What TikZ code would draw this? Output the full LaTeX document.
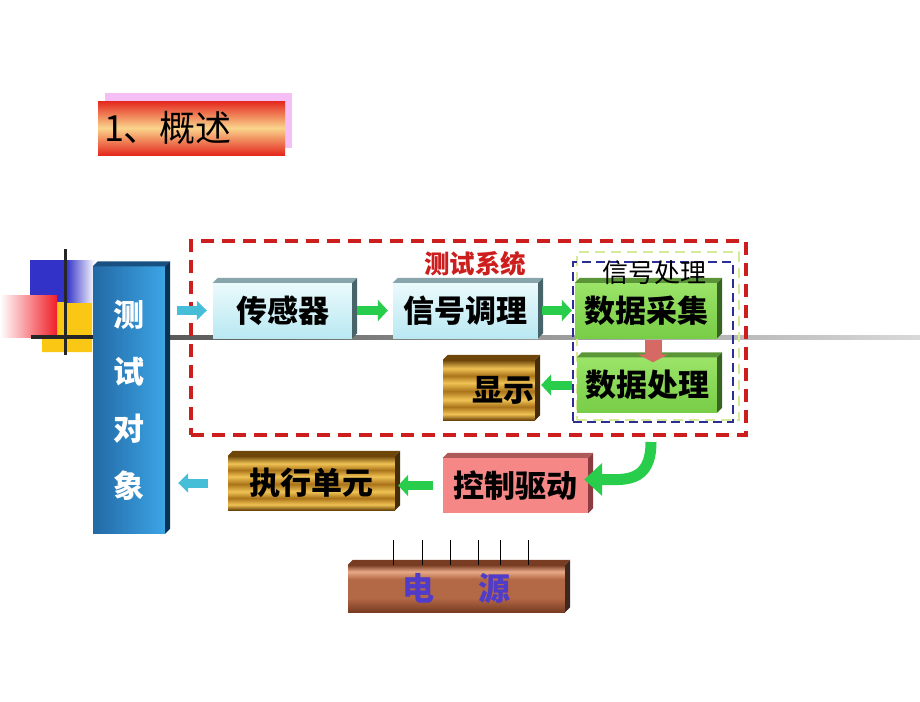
\documentclass[tikz,border=0pt]{standalone}
\usepackage{fontspec}
\setmainfont{Noto Sans CJK SC}
\usetikzlibrary{arrows.meta}

\definecolor{frame red}{RGB}{205,30,30}
\definecolor{frame blue}{RGB}{45,45,150}
\definecolor{frame lime}{RGB}{215,235,150}
\definecolor{arrow cyan}{RGB}{70,190,215}
\definecolor{arrow green}{RGB}{40,205,75}
\definecolor{arrow red}{RGB}{215,105,100}
\definecolor{deco blue}{RGB}{50,50,200}
\definecolor{deco red}{RGB}{240,30,40}
\definecolor{deco yellow}{RGB}{250,200,20}
\definecolor{title red}{RGB}{228,40,30}
\definecolor{title light}{RGB}{250,212,140}
\definecolor{title shadow}{RGB}{245,190,245}
\definecolor{cyan top}{RGB}{235,250,252}
\definecolor{cyan bottom}{RGB}{185,232,242}
\definecolor{cyan lid}{RGB}{135,165,170}
\definecolor{cyan side}{RGB}{70,100,105}
\definecolor{green top}{RGB}{155,228,105}
\definecolor{green bottom}{RGB}{120,205,70}
\definecolor{green lid}{RGB}{90,150,55}
\definecolor{green side}{RGB}{55,100,35}
\definecolor{pink face}{RGB}{245,135,135}
\definecolor{pink lid}{RGB}{175,90,90}
\definecolor{pink side}{RGB}{140,60,65}
\definecolor{blue left}{RGB}{35,105,165}
\definecolor{blue right}{RGB}{60,165,230}
\definecolor{blue lid}{RGB}{25,80,130}
\definecolor{blue side}{RGB}{10,50,85}
\definecolor{gold side}{RGB}{70,45,10}
\definecolor{copper side}{RGB}{60,40,30}
\definecolor{golddark}{RGB}{110,70,10}
\definecolor{goldmid}{RGB}{170,115,25}
\definecolor{goldlight}{RGB}{240,195,85}
\definecolor{copperdark}{RGB}{120,60,35}
\definecolor{coppermid}{RGB}{180,105,70}
\definecolor{copperlight}{RGB}{232,170,135}
\definecolor{power text}{RGB}{80,60,200}

\pgfdeclareverticalshading{goldwave}{100bp}{color(0bp)=(golddark); color(25bp)=(golddark);
  color(30bp)=(goldlight); color(36bp)=(goldmid); color(42bp)=(goldlight); color(49bp)=(goldmid);
  color(56bp)=(goldlight); color(62bp)=(goldmid); color(68bp)=(goldlight); color(75bp)=(golddark);
  color(100bp)=(golddark)}
\pgfdeclareverticalshading{copper}{100bp}{color(0bp)=(copperdark); color(25bp)=(copperdark);
  color(40bp)=(coppermid); color(60bp)=(coppermid); color(68bp)=(copperlight); color(75bp)=(copperdark);
  color(100bp)=(copperdark)}

% 3D block: top face and right face behind a node
\newcommand\extrude[3]{%
  \fill[#2] (#1.north west) -- ++(5,-5) -- ([shift={(5,-5)}]#1.north east) -- (#1.north east) -- cycle;
  \fill[#3] (#1.north east) -- ++(5,-5) -- ([shift={(5,-5)}]#1.south east) -- (#1.south east) -- cycle;}

\tikzset{unit/.style={minimum height=55pt, inner sep=0pt, font=\fontsize{31}{33}\selectfont\bfseries},
  cyanbox/.style={unit, top color=cyan top, bottom color=cyan bottom},
  greenbox/.style={unit, top color=green top, bottom color=green bottom},
  pinkbox/.style={unit, fill=pink face},
  goldbox/.style={unit, shade, shading=goldwave},
  titlebox/.style={minimum height=54pt, inner sep=6pt, text width=175pt, align=left,
    top color=title red, bottom color=title red, middle color=title light,
    font=\fontsize{36}{38}\selectfont},
  sysframe/.style={draw=frame red, line width=3.5pt, dash pattern=on 13pt off 8pt, inner sep=0pt},
  dspframe/.style={draw=frame blue, line width=2.5pt, dash pattern=on 9pt off 5pt, inner sep=0pt},
  limeframe/.style={draw=frame lime, line width=2pt, dash pattern=on 10pt off 6pt, inner sep=0pt},
  carrow/.style={line width=9pt, draw=arrow cyan, -{Triangle[width=19pt,length=10pt]}},
  garrow/.style={line width=9pt, draw=arrow green, -{Triangle[width=21pt,length=10pt]}},
  rarrow/.style={line width=17pt, draw=arrow red, -{Triangle[width=30pt,length=8pt]}}}

\begin{document}
\begin{tikzpicture}[x=1pt,y=-1pt]
\useasboundingbox (0,0) rectangle (920,701);

% corner decoration
\fill[deco yellow] (57,302) rectangle (92,337) (42,337) rectangle (92,352);
\fill[deco blue] (30,260) rectangle (66,302);
\shade[left color=deco blue, right color=white] (66,260) rectangle (95,302);
\shade[left color=white, right color=deco red] (0,295) rectangle (57,337);
\draw[line width=3pt, black!85] (65,249) -- (65,355);
\draw[line width=4pt, black!85] (31,337) -- (93,337);
\shade[left color=black!65, right color=black!15] (170,335) rectangle (920,339);

\fill[title shadow] (105,93) rectangle (292,148);
\node[titlebox] (title) at (191.5,128) {1、概述};

\node[limeframe, minimum width=162pt, minimum height=168pt] (limebox) at (658,336) {};
\node[sysframe, minimum width=555pt, minimum height=194pt] (sys) at (468.5,338) {};
\node[dspframe, minimum width=160pt, minimum height=160pt] (dspbox) at (653,342) {};
\node[text=frame red, font=\fontsize{25.5}{27}\selectfont\bfseries] (systitle) at (475,264) {测试系统};

\node[unit, minimum width=72pt, minimum height=267pt, left color=blue left, right color=blue right,
  text=white, align=center, font=\fontsize{31}{57}\selectfont\bfseries] (obj) at (129,400) {测\\试\\对\\象};
\extrude{obj}{blue lid}{blue side}

\node[cyanbox, minimum width=139pt] (sensor) at (282.5,310.5) {传感器};
\node[cyanbox, minimum width=145pt] (cond) at (465.5,310.5) {信号调理};
\node[greenbox, minimum width=142pt] (acq) at (646,310.5) {数据采集};
\node[greenbox, minimum width=140pt] (proc) at (647,385) {数据处理};
\node[goldbox, minimum width=92pt, minimum height=60pt, text width=90pt, align=right] (disp) at (489,390) {显示};
\node[pinkbox, minimum width=145pt] (drive) at (515.5,485.5) {控制驱动};
\node[goldbox, minimum width=167pt, minimum height=54pt] (exec) at (311.5,483) {执行单元};
\node[unit, shade, shading=copper, minimum width=217pt, minimum height=47pt, text=power text,
  font=\fontsize{32}{34}\selectfont\bfseries] (power) at (456.5,588.5) {电\hspace{44pt}源};
\foreach \name in {sensor,cond}
  \extrude{\name}{cyan lid}{cyan side};
\foreach \name in {acq,proc}
  \extrude{\name}{green lid}{green side};
\foreach \name in {disp,exec}
  \extrude{\name}{golddark}{gold side};
\extrude{drive}{pink lid}{pink side}
\extrude{power}{copperdark}{copper side}

\node[font=\fontsize{26}{28}\selectfont] (dsp) at (654,273) {信号处理};
\foreach \x in {393,422,450,478,500,528}
  \draw[line width=1pt] (\x,540) -- (power.north -| \x,0);

\draw[carrow, shorten <=12pt, shorten >=6pt] (obj.east |- sensor.west) -- (sensor.west);
\draw[garrow, shorten <=5pt, shorten >=5pt] (sensor) -- (cond);
\draw[garrow, shorten <=4pt, shorten >=3pt] (cond) -- (acq);
\draw[rarrow, shorten <=2pt, shorten >=-5pt] ([xshift=7pt]acq.south) -- ([xshift=7pt]acq.south |- proc.north);
\draw[garrow, shorten <=5pt, shorten >=6pt] (proc.west) -- (proc.west -| disp.east);
\coordinate (hook) at (651,442);
\draw[garrow, line width=11pt, -{Triangle[width=32pt,length=18pt]}, shorten >=-4pt]
  (hook) .. controls +(0,42) and +(35,0) .. ([yshift=6pt]drive.east);
\draw[garrow, shorten <=10pt, shorten >=3pt] (drive) -- (drive.west -| exec.east);
\draw[carrow, shorten <=20pt, shorten >=13pt] (exec.west) -- (exec.west -| obj.east);
\end{tikzpicture}
\end{document}
